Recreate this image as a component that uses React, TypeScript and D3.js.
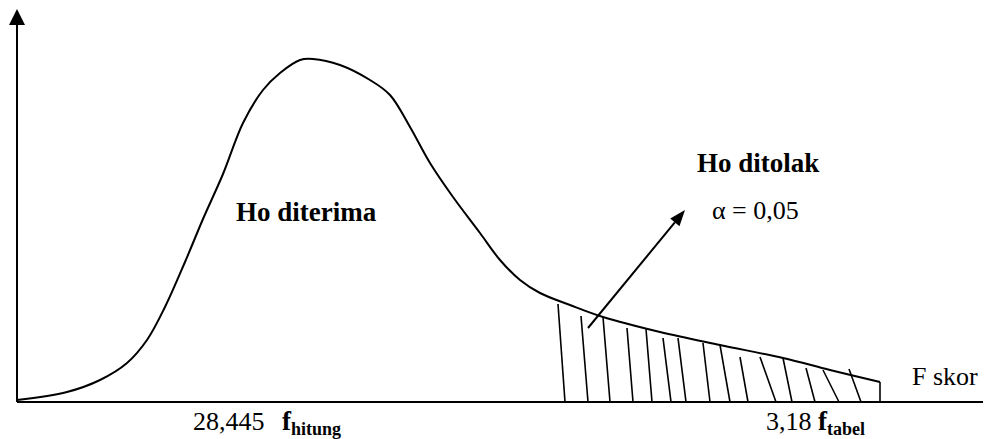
import { useEffect, useRef } from "react";
import * as d3 from "d3";

// F distribution sketch — values in chart units (x: score axis, y: density)
const curveX = [0, 50, 83, 110, 130, 148, 168, 186, 206, 226, 246, 263, 283, 296, 323, 353, 373, 393, 413, 436, 463, 483, 503, 523, 553, 586, 643, 703, 766, 813, 863];
const curveY = [2, 10, 22, 39, 62, 95, 140, 183, 228, 279, 312, 329, 342, 343, 337, 322, 307, 275, 239, 205, 169, 142, 122, 109, 97, 85, 70, 57, 44, 32, 20];

// hatch strokes of the rejection region: top (x, y) and foot x on the axis
const hatchTopX = [541, 564, 586, 610, 629, 646, 661, 686, 703, 723, 743, 766, 789, 806, 832, 863];
const hatchTopY = [98, 86, 85, 74, 73, 64, 64, 59, 57, 45, 45, 44, 34, 32, 33, 20];
const hatchFootX = [548, 571, 593, 616, 635, 654, 669, 693, 713, 731, 759, 775, 798, 822, 844, 863];

// pointer arrow, from the hatched area to the label
const arrowFrom = [571, 74];
const arrowTo = [668, 192];

const W = 1001;
const H = 439;
const FONT = "'Liberation Serif', 'Times New Roman', serif";

export default function App() {
  const svgRef = useRef<SVGSVGElement>(null);

  useEffect(() => {
    if (!svgRef.current) return;
    const svg = d3.select(svgRef.current);
    svg.selectAll("*").remove();

    const x = d3.scaleLinear().domain([0, 966]).range([17, 983]);
    const y = d3.scaleLinear().domain([0, 350]).range([402, 52]);

    // axes
    svg.append("line")
      .attr("x1", x(0)).attr("x2", x(966))
      .attr("y1", y(0)).attr("y2", y(0))
      .attr("stroke", "#000").attr("stroke-width", 2);
    svg.append("line")
      .attr("x1", x(0)).attr("x2", x(0))
      .attr("y1", y(0)).attr("y2", 20)
      .attr("stroke", "#000").attr("stroke-width", 2);
    svg.append("path")
      .attr("d", `M${x(0)},9 L${x(0) - 8},25 L${x(0) + 8},25 Z`)
      .attr("fill", "#000");

    // curve
    const pts = curveX.map((v, i) => [v, curveY[i]] as [number, number]);
    const line = d3.line<[number, number]>()
      .x(d => x(d[0]))
      .y(d => y(d[1]))
      .curve(d3.curveCatmullRom.alpha(0.5));
    svg.append("path")
      .datum(pts)
      .attr("fill", "none")
      .attr("stroke", "#000")
      .attr("stroke-width", 2)
      .attr("d", line);

    // hatching
    hatchTopX.forEach((tx, i) => {
      svg.append("line")
        .attr("x1", x(tx)).attr("y1", y(hatchTopY[i]))
        .attr("x2", x(hatchFootX[i])).attr("y2", y(0))
        .attr("stroke", "#000").attr("stroke-width", 1.6);
    });

    // arrow
    const ax1 = x(arrowFrom[0]), ay1 = y(arrowFrom[1]);
    const ax2 = x(arrowTo[0]), ay2 = y(arrowTo[1]);
    const ang = Math.atan2(ay2 - ay1, ax2 - ax1);
    const hl = 16, hw = 6;
    const bx = ax2 - hl * Math.cos(ang), by = ay2 - hl * Math.sin(ang);
    svg.append("line")
      .attr("x1", ax1).attr("y1", ay1).attr("x2", bx).attr("y2", by)
      .attr("stroke", "#000").attr("stroke-width", 2);
    svg.append("path")
      .attr("d", `M${ax2},${ay2} L${bx + hw * Math.sin(ang)},${by - hw * Math.cos(ang)} L${bx - hw * Math.sin(ang)},${by + hw * Math.cos(ang)} Z`)
      .attr("fill", "#000");

    // labels
    const txt = (tx: number, ty: number, s: string, size: number, bold = false) =>
      svg.append("text")
        .attr("x", tx).attr("y", ty)
        .attr("font-family", FONT)
        .attr("font-size", size)
        .attr("font-weight", bold ? "bold" : "normal")
        .attr("fill", "#000")
        .text(s);

    txt(236, 221, "Ho diterima", 27, true);
    txt(697, 172, "Ho ditolak", 27, true);
    txt(712, 219, "α = 0,05", 26);
    txt(912, 385, "F skor", 26);
    txt(193, 430, "28,445", 26);

    const fh = txt(282, 430, "f", 27, true);
    fh.append("tspan").attr("font-size", 18).attr("dy", 5).text("hitung");
    txt(766, 430, "3,18", 26);
    const ft = txt(818, 430, "f", 27, true);
    ft.append("tspan").attr("font-size", 18).attr("dy", 5).text("tabel");
  }, []);

  return (
    <svg
      ref={svgRef}
      width={W}
      height={H}
      style={{ position: "absolute", left: 0, top: 0, background: "#fff" }}
    />
  );
}
